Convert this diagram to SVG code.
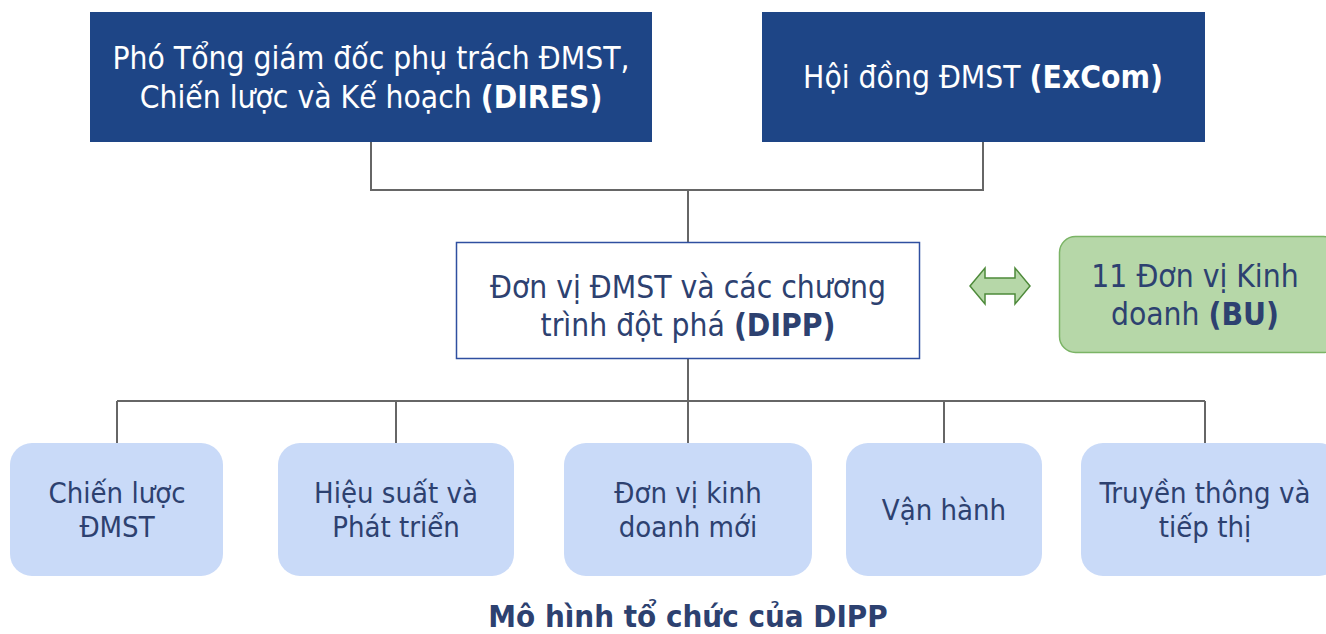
<svg xmlns="http://www.w3.org/2000/svg" width="1326" height="634" viewBox="0 0 1326 634">
<style>
.t{font-family:"DejaVu Sans Condensed","Liberation Sans",sans-serif;text-anchor:middle}
.w{fill:#ffffff;font-size:31.5px}
.d{fill:#2d4170;font-size:31.5px}
.s{fill:#2d4170;font-size:29px}
.b{font-weight:bold}
.dark{fill:#1e4586}
.sub{fill:#c9daf8}
.con{fill:none;stroke:#666666;stroke-width:2}
</style>
<rect width="1326" height="634" fill="#ffffff"/>
<g id="connectors">
<polyline class="con" points="371,142 371,190 983,190 983,142"/>
<line class="con" x1="688" y1="190" x2="688" y2="242"/>
<line class="con" x1="688" y1="359" x2="688" y2="401"/>
<line class="con" x1="117" y1="401" x2="1205" y2="401"/>
<polyline class="con" points="117,443 117,401"/>
<line class="con" x1="396" y1="401" x2="396" y2="443"/>
<line class="con" x1="688" y1="401" x2="688" y2="443"/>
<line class="con" x1="944" y1="401" x2="944" y2="443"/>
<line class="con" x1="1205" y1="401" x2="1205" y2="443"/>
<path d="M970,286 L985,268 L985,278 L1015,278 L1015,268 L1030,286 L1015,304 L1015,294 L985,294 L985,304 Z" fill="#b6d7a8" stroke="#4e8a3a" stroke-width="1.5"/>
</g>
<g id="dires">
<rect class="dark" x="90" y="12" width="562" height="130"/>
<text class="t w" x="371" y="69">Phó Tổng giám đốc phụ trách ĐMST,</text>
<text class="t w" x="371" y="108">Chiến lược và Kế hoạch <tspan class="b">(DIRES)</tspan></text>
</g>
<g id="excom">
<rect class="dark" x="762" y="12" width="443" height="130"/>
<text class="t w" x="983" y="88">Hội đồng ĐMST <tspan class="b">(ExCom)</tspan></text>
</g>
<g id="dipp">
<rect x="456.5" y="242.5" width="463" height="116" fill="#ffffff" stroke="#2f4fa0" stroke-width="1.5"/>
<text class="t d" x="688" y="298">Đơn vị ĐMST và các chương</text>
<text class="t d" x="688" y="336">trình đột phá <tspan class="b">(DIPP)</tspan></text>
</g>
<g id="bu">
<rect x="1059.5" y="236.5" width="280" height="116" rx="16" fill="#b6d7a8" stroke="#7bb466" stroke-width="1.5"/>
<text class="t d" x="1195" y="287">11 Đơn vị Kinh</text>
<text class="t d" x="1195" y="325">doanh <tspan class="b">(BU)</tspan></text>
</g>
<g id="chienluoc">
<rect class="sub" x="10" y="443" width="213" height="133" rx="22"/>
<text class="t s" x="117" y="503">Chiến lược</text>
<text class="t s" x="117" y="537">ĐMST</text>
</g>
<g id="hieusuat">
<rect class="sub" x="278" y="443" width="236" height="133" rx="22"/>
<text class="t s" x="396" y="503">Hiệu suất và</text>
<text class="t s" x="396" y="537">Phát triển</text>
</g>
<g id="donvi">
<rect class="sub" x="564" y="443" width="248" height="133" rx="22"/>
<text class="t s" x="688" y="503">Đơn vị kinh</text>
<text class="t s" x="688" y="537">doanh mới</text>
</g>
<g id="vanhanh">
<rect class="sub" x="846" y="443" width="196" height="133" rx="22"/>
<text class="t s" x="944" y="520">Vận hành</text>
</g>
<g id="truyenthong">
<rect class="sub" x="1081" y="443" width="260" height="133" rx="22"/>
<text class="t s" x="1205" y="503">Truyền thông và</text>
<text class="t s" x="1205" y="537">tiếp thị</text>
</g>
<text class="t b" x="688" y="627" fill="#2d4170" font-size="31">Mô hình tổ chức của DIPP</text>
</svg>
